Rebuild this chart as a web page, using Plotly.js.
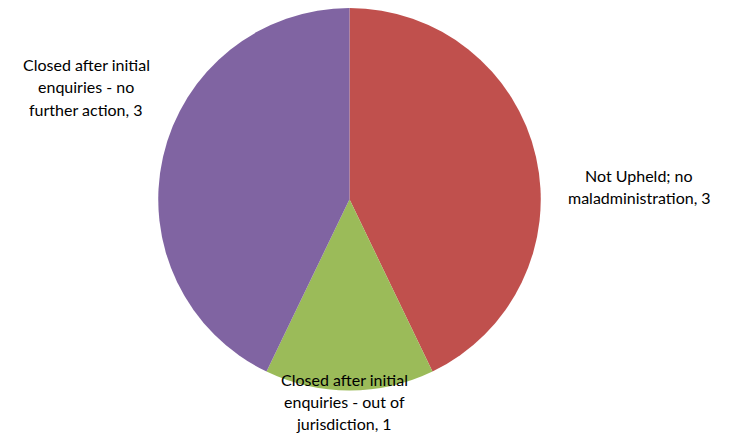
<!DOCTYPE html>
<html>
<head>
<meta charset="utf-8">
<script src="https://cdn.plot.ly/plotly-3.0.1.min.js"></script>
<style>html,body{margin:0;padding:0;background:#fff}#chart{width:731px;height:436px}</style>
</head>
<body>
<div id="chart"></div>
<script>
var categories = [
  "Not Upheld; no maladministration",
  "Closed after initial enquiries - out of jurisdiction",
  "Closed after initial enquiries - no further action"
];
var labelLines = [
  ["Not Upheld; no", "maladministration, "],
  ["Closed after initial", "enquiries - out of", "jurisdiction, "],
  ["Closed after initial", "enquiries - no", "further action, "]
];
var values = [3, 1, 3];
var colors = ["#C0504D", "#9BBB59", "#8064A2"];

var W = 731, H = 436;
// label anchor positions (pixels): centre x, first-line centre y
var labelPos = [[639, 175], [344, 379], [86, 65]];
var lineGap = 22;

var annotations = [];
labelLines.forEach(function (lines, i) {
  lines.forEach(function (ln, j) {
    var t = (j === lines.length - 1) ? ln + values[i] : ln;
    annotations.push({
      text: t, showarrow: false, xref: "paper", yref: "paper",
      x: labelPos[i][0] / W, y: 1 - (labelPos[i][1] + j * lineGap) / H,
      xanchor: "center", yanchor: "middle",
      font: {family: "Lato, 'Open Sans', sans-serif", size: 16, color: "#000"}
    });
  });
});

var data = [{
  type: "pie",
  labels: categories,
  values: values,
  sort: false,
  direction: "clockwise",
  rotation: 0,
  marker: {colors: colors, line: {width: 0}},
  textinfo: "none",
  hoverinfo: "label+value",
  domain: {x: [158 / W, 541 / W], y: [1 - 390.5 / H, 1 - 8 / H]}
}];

var layout = {
  width: W, height: H,
  margin: {l: 0, r: 0, t: 0, b: 0},
  showlegend: false,
  paper_bgcolor: "#fff",
  annotations: annotations
};

Plotly.newPlot("chart", data, layout, {displayModeBar: false, staticPlot: true});
</script>
</body>
</html>
